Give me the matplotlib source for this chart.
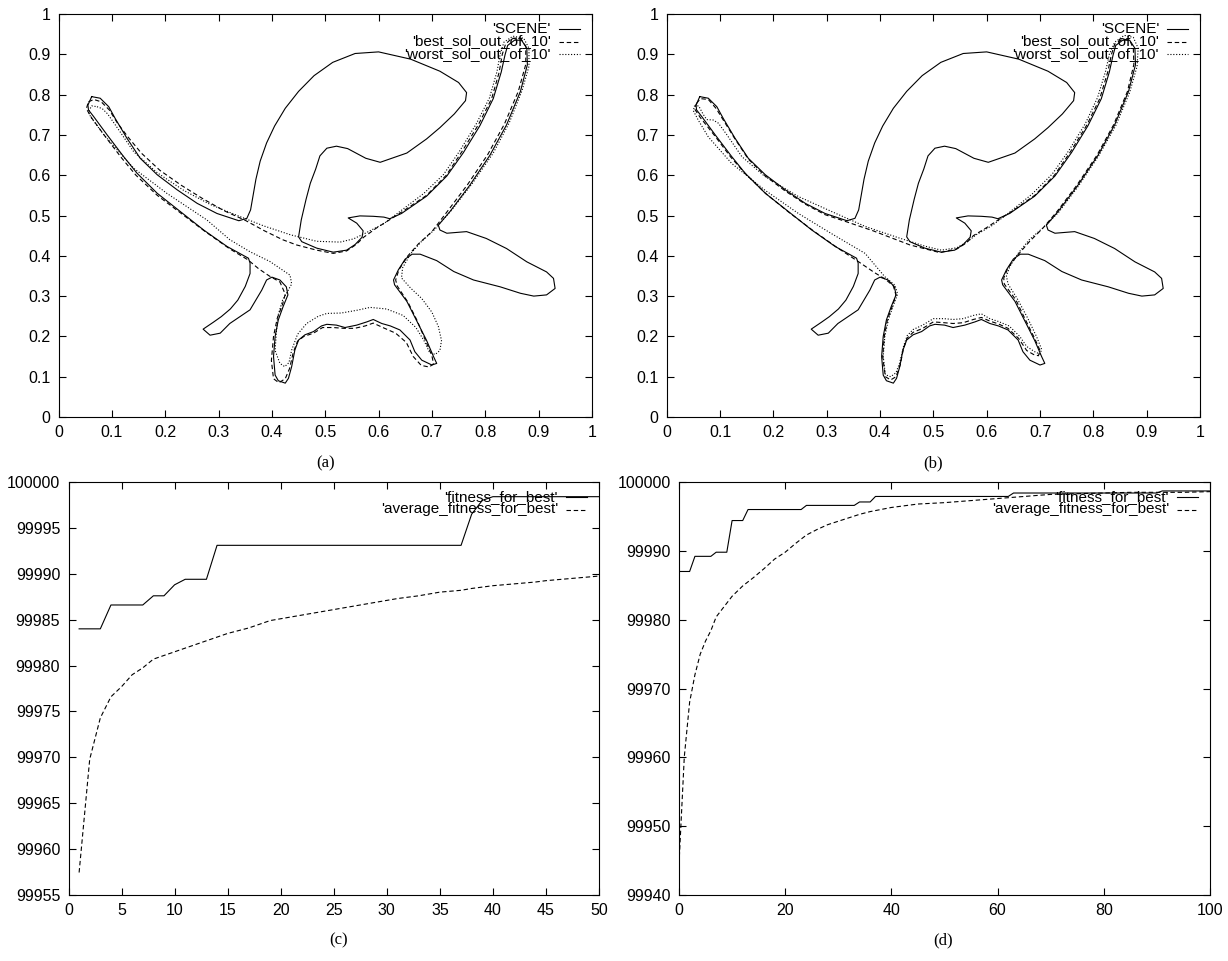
import matplotlib
matplotlib.use('Agg')
import matplotlib.pyplot as plt

plt.rcParams['font.family'] = ['Liberation Sans', 'DejaVu Sans']

# ---------------- scene outline (panels a, b) ----------------
scene_left_arm_upper = [(0.062,0.795),(0.078,0.791),(0.094,0.770),(0.106,0.741),(0.128,0.692),(0.153,0.642),
    (0.185,0.601),(0.222,0.564),(0.260,0.530),(0.297,0.505),(0.338,0.487),(0.353,0.493)]
scene_bulb = [(0.360,0.514),(0.364,0.545),(0.370,0.590),(0.378,0.635),(0.390,0.680),(0.405,0.722),(0.425,0.766),
    (0.450,0.808),(0.479,0.847),(0.514,0.880),(0.556,0.902),(0.600,0.906),(0.660,0.888),(0.715,0.858),(0.750,0.830),
    (0.765,0.805),(0.763,0.785),(0.742,0.752),(0.715,0.718),(0.690,0.690),(0.653,0.655),(0.603,0.632),(0.576,0.642),
    (0.542,0.666),(0.521,0.672),(0.503,0.667),(0.490,0.648),(0.482,0.615),(0.472,0.580),(0.464,0.540),(0.455,0.489),
    (0.450,0.447),(0.456,0.435),(0.484,0.419),(0.515,0.409),(0.540,0.414),(0.556,0.428),(0.569,0.446),(0.571,0.462),
    (0.559,0.481),(0.543,0.494),(0.565,0.499),(0.590,0.498),(0.610,0.496),(0.621,0.492)]
scene_right_arm = [(0.643,0.505),(0.690,0.548),(0.728,0.598),(0.759,0.656),(0.790,0.723),(0.815,0.790),(0.830,0.856),
    (0.837,0.898),(0.842,0.922),(0.855,0.935),(0.868,0.935),(0.878,0.915),(0.879,0.874),(0.866,0.808),(0.840,0.725),
    (0.809,0.650),(0.771,0.575),(0.734,0.510),(0.712,0.476),(0.715,0.464),(0.728,0.456)]
scene_blob = [(0.765,0.460),(0.802,0.443),(0.840,0.418),(0.878,0.385),(0.915,0.360),(0.928,0.344),(0.931,0.319),
    (0.915,0.303),(0.891,0.300),(0.866,0.307),(0.828,0.323),(0.778,0.340),(0.741,0.361),(0.709,0.388),(0.678,0.404),
    (0.663,0.404),(0.650,0.392),(0.637,0.365),(0.628,0.340),(0.630,0.328)]
scene_legs = [(0.653,0.287),(0.671,0.240),(0.690,0.190),(0.703,0.150),(0.709,0.133),(0.700,0.129),(0.681,0.141),
    (0.668,0.162),(0.659,0.191),(0.640,0.216),(0.622,0.226),(0.606,0.232),(0.590,0.242),(0.578,0.236),(0.559,0.228),
    (0.537,0.222),(0.521,0.228),(0.503,0.230),(0.493,0.226),(0.478,0.212),(0.462,0.204),(0.450,0.191),(0.443,0.166),
    (0.437,0.125),(0.431,0.096),(0.425,0.084),(0.412,0.090),(0.406,0.104),(0.403,0.150),(0.406,0.200),(0.412,0.241),
    (0.421,0.274),(0.430,0.303),(0.427,0.323),(0.415,0.340),(0.400,0.347),(0.390,0.340)]
scene_stub = [(0.381,0.315),(0.359,0.266),(0.321,0.232),(0.303,0.208),(0.284,0.203),(0.271,0.218),(0.290,0.235),
    (0.305,0.249),(0.322,0.268),(0.336,0.290),(0.350,0.324),(0.359,0.356),(0.359,0.382),(0.356,0.394)]
scene_left_arm_lower = [(0.316,0.423),(0.272,0.464),(0.228,0.510),(0.185,0.555),(0.147,0.605),(0.122,0.646),
    (0.091,0.700),(0.066,0.745),(0.056,0.762),(0.055,0.774),(0.062,0.795)]

# ---------------- best / worst solutions, panel (a) ----------------
best_a_upper = [(0.056,0.782),(0.066,0.788),(0.080,0.782),(0.095,0.762),(0.110,0.730),(0.130,0.695),(0.155,0.655),
    (0.190,0.612),(0.230,0.575),(0.270,0.542),(0.310,0.512),(0.350,0.488),(0.386,0.462),(0.420,0.440),(0.446,0.427),
    (0.484,0.414),(0.515,0.406),(0.540,0.412),(0.558,0.428),(0.572,0.446),(0.595,0.468),(0.625,0.493),(0.645,0.510),
    (0.690,0.550),(0.727,0.600),(0.757,0.660),(0.787,0.725),(0.812,0.790),(0.826,0.855),(0.832,0.900),(0.838,0.925),
    (0.850,0.940),(0.866,0.940),(0.876,0.920),(0.876,0.875),(0.862,0.808),(0.836,0.727),(0.805,0.652),(0.767,0.577),
    (0.730,0.512),(0.700,0.460),(0.675,0.430),(0.655,0.400),(0.638,0.365),(0.632,0.340),(0.635,0.325)]
best_a_lower = [(0.655,0.285),(0.672,0.240),(0.688,0.190),(0.700,0.152),(0.703,0.132),(0.695,0.124),(0.680,0.128),
    (0.665,0.150),(0.652,0.185),(0.632,0.208),(0.608,0.222),(0.590,0.233),(0.575,0.226),(0.555,0.220),(0.535,0.220),
    (0.515,0.222),(0.495,0.222),(0.478,0.208),(0.460,0.200),(0.448,0.188),(0.440,0.160),(0.433,0.120),(0.425,0.095),
    (0.413,0.085),(0.403,0.095),(0.399,0.140),(0.403,0.200),(0.410,0.245),(0.420,0.280),(0.425,0.305),(0.415,0.335),
    (0.395,0.350),(0.375,0.368),(0.355,0.390),(0.320,0.418),(0.275,0.460),(0.230,0.505),(0.185,0.550),(0.145,0.600),
    (0.118,0.643),(0.088,0.695),(0.062,0.742),(0.052,0.765),(0.056,0.782)]
worst_a_upper = [(0.072,0.770),(0.082,0.765),(0.092,0.752),(0.113,0.712),(0.141,0.658),(0.185,0.606),(0.235,0.562),
    (0.285,0.527),(0.335,0.500),(0.385,0.474),(0.435,0.452),(0.484,0.436),(0.528,0.434),(0.553,0.442),(0.575,0.456),
    (0.610,0.480),(0.645,0.515),(0.685,0.555),(0.722,0.602),(0.752,0.660),(0.783,0.727),(0.808,0.792),(0.822,0.857),
    (0.828,0.900),(0.835,0.930),(0.852,0.945),(0.872,0.940),(0.882,0.915),(0.882,0.870),(0.869,0.810),(0.845,0.730),
    (0.815,0.655),(0.776,0.580),(0.738,0.515),(0.705,0.465),(0.680,0.435),(0.660,0.405),(0.645,0.370),(0.643,0.345)]
worst_a_lower = [(0.660,0.320),(0.681,0.294),(0.700,0.260),(0.712,0.225),(0.718,0.190),(0.715,0.165),(0.706,0.155),
    (0.695,0.162),(0.685,0.190),(0.670,0.222),(0.646,0.252),(0.615,0.268),(0.584,0.272),(0.560,0.265),(0.530,0.258),
    (0.503,0.257),(0.487,0.250),(0.465,0.232),(0.448,0.205),(0.437,0.166),(0.432,0.135),(0.424,0.125),(0.415,0.133),
    (0.406,0.165),(0.408,0.205),(0.411,0.250),(0.420,0.290),(0.432,0.318),(0.437,0.330),(0.434,0.352),(0.396,0.386),
    (0.359,0.410),(0.321,0.440),(0.278,0.489),(0.203,0.555),(0.141,0.617),(0.085,0.700),(0.060,0.745),(0.056,0.758),
    (0.062,0.772),(0.072,0.770)]

# ---------------- best / worst solutions, panel (b) ----------------
best_b_upper = [(0.056,0.778),(0.063,0.790),(0.078,0.788),(0.093,0.765),(0.106,0.737),(0.128,0.690),(0.153,0.640),
    (0.185,0.598),(0.222,0.561),(0.260,0.528),(0.297,0.502),(0.338,0.484),(0.387,0.462),(0.456,0.427),(0.512,0.408),
    (0.544,0.417),(0.562,0.432),(0.575,0.450),(0.600,0.470),(0.625,0.492),(0.645,0.508),(0.690,0.550),(0.727,0.600),
    (0.757,0.658),(0.788,0.725),(0.812,0.790),(0.827,0.856),(0.834,0.900),(0.840,0.925),(0.855,0.938),(0.868,0.935),
    (0.875,0.915),(0.876,0.875),(0.864,0.808),(0.838,0.725),(0.807,0.650),(0.769,0.575),(0.732,0.510),(0.705,0.468),
    (0.680,0.435),(0.657,0.400),(0.640,0.370),(0.632,0.345),(0.633,0.330)]
best_b_lower = [(0.655,0.290),(0.672,0.243),(0.690,0.195),(0.700,0.165),(0.697,0.152),(0.688,0.155),(0.675,0.165),
    (0.660,0.195),(0.640,0.220),(0.622,0.231),(0.606,0.238),(0.590,0.247),(0.575,0.242),(0.556,0.234),(0.537,0.232),
    (0.520,0.234),(0.500,0.236),(0.480,0.220),(0.462,0.210),(0.451,0.196),(0.444,0.170),(0.438,0.130),(0.430,0.100),
    (0.420,0.092),(0.410,0.100),(0.405,0.150),(0.408,0.200),(0.414,0.242),(0.423,0.275),(0.430,0.302),(0.425,0.325),
    (0.410,0.342),(0.390,0.358),(0.360,0.385),(0.320,0.420),(0.275,0.462),(0.230,0.507),(0.187,0.553),(0.148,0.603),
    (0.120,0.645),(0.090,0.698),(0.063,0.743),(0.052,0.765),(0.056,0.778)]
worst_b_upper = [(0.052,0.772),(0.060,0.772),(0.068,0.752),(0.075,0.738),(0.087,0.737),(0.097,0.729),(0.113,0.700),
    (0.141,0.646),(0.184,0.597),(0.247,0.547),(0.309,0.510),(0.372,0.473),(0.434,0.445),(0.484,0.424),(0.515,0.414),
    (0.544,0.420),(0.565,0.436),(0.580,0.452),(0.610,0.475),(0.640,0.505),(0.685,0.553),(0.723,0.603),(0.754,0.661),
    (0.785,0.728),(0.808,0.793),(0.823,0.858),(0.830,0.900),(0.840,0.930),(0.858,0.947),(0.875,0.942),(0.884,0.915),
    (0.882,0.870),(0.868,0.805),(0.842,0.723),(0.810,0.648),(0.772,0.573),(0.735,0.508),(0.706,0.470),(0.680,0.440),
    (0.660,0.408),(0.644,0.375),(0.637,0.350),(0.640,0.330)]
worst_b_lower = [(0.658,0.292),(0.677,0.245),(0.694,0.198),(0.703,0.168),(0.700,0.156),(0.690,0.162),(0.675,0.175),
    (0.662,0.200),(0.642,0.226),(0.622,0.237),(0.606,0.244),(0.590,0.256),(0.575,0.252),(0.556,0.244),(0.537,0.242),
    (0.520,0.244),(0.500,0.244),(0.480,0.228),(0.462,0.217),(0.451,0.202),(0.444,0.175),(0.437,0.135),(0.430,0.110),
    (0.420,0.100),(0.410,0.105),(0.406,0.150),(0.409,0.200),(0.416,0.243),(0.425,0.277),(0.433,0.305),(0.428,0.327),
    (0.412,0.345),(0.409,0.348),(0.372,0.406),(0.309,0.455),(0.247,0.505),(0.184,0.563),(0.122,0.629),(0.078,0.695),
    (0.059,0.737),(0.050,0.760),(0.052,0.772)]

scene_labels = ["'SCENE'", "'best_sol_out_of_10'", "'worst_sol_out_of_10'"]
unit_ticks = [0, 0.1, 0.2, 0.3, 0.4, 0.5, 0.6, 0.7, 0.8, 0.9, 1]
unit_tick_labels = ['0', '0.1', '0.2', '0.3', '0.4', '0.5', '0.6', '0.7', '0.8', '0.9', '1']

# ---------------- fitness, panel (c) ----------------
gen_c = [1, 2, 3, 4, 5, 6, 7, 8, 9, 10, 11, 12, 13, 14, 15, 16, 17, 18, 19, 20, 21, 22, 23, 24, 25,
         26, 27, 28, 29, 30, 31, 32, 33, 34, 35, 36, 37, 38, 39, 40, 41, 42, 43, 44, 45, 46, 47, 48, 49, 50]
best_c = [99984.0, 99984.0, 99984.0, 99986.6, 99986.6, 99986.6, 99986.6, 99987.6, 99987.6, 99988.8,
          99989.4, 99989.4, 99989.4, 99993.1, 99993.1, 99993.1, 99993.1, 99993.1, 99993.1, 99993.1,
          99993.1, 99993.1, 99993.1, 99993.1, 99993.1, 99993.1, 99993.1, 99993.1, 99993.1, 99993.1,
          99993.1, 99993.1, 99993.1, 99993.1, 99993.1, 99993.1, 99993.1, 99996.5, 99998.0, 99998.4,
          99998.4, 99998.4, 99998.4, 99998.4, 99998.4, 99998.4, 99998.4, 99998.4, 99998.4, 99998.4]
avg_c = [99957.45, 99969.8, 99974.3, 99976.6, 99977.7, 99979.0, 99979.75, 99980.7, 99981.1, 99981.5,
         99981.9, 99982.3, 99982.7, 99983.1, 99983.5, 99983.8, 99984.1, 99984.5, 99984.9, 99985.1,
         99985.3, 99985.5, 99985.7, 99985.9, 99986.1, 99986.3, 99986.5, 99986.7, 99986.9, 99987.1,
         99987.3, 99987.45, 99987.6, 99987.8, 99988.0, 99988.1, 99988.2, 99988.4, 99988.55, 99988.7,
         99988.8, 99988.9, 99989.0, 99989.1, 99989.25, 99989.35, 99989.45, 99989.55, 99989.65, 99989.75]
c_xticks = [0, 5, 10, 15, 20, 25, 30, 35, 40, 45, 50]
c_yticks = [99955, 99960, 99965, 99970, 99975, 99980, 99985, 99990, 99995, 100000]

# ---------------- fitness, panel (d) ----------------
gen_d_best = [0, 2, 3, 6, 7, 9, 10, 12, 13, 23, 24, 33, 34, 36, 37, 62, 63, 90, 91, 100]
best_d = [99987.0, 99987.0, 99989.2, 99989.2, 99989.8, 99989.8, 99994.4, 99994.4, 99996.0, 99996.0,
          99996.6, 99996.6, 99997.1, 99997.1, 99997.9, 99997.9, 99998.4, 99998.4, 99998.7, 99998.7]
gen_d_avg = [0, 1, 2, 3, 4, 5, 6, 7, 8, 10, 12, 14, 16, 18, 20, 22, 24, 26, 28, 30, 32, 34, 36, 38, 40,
             45, 50, 55, 60, 65, 70, 75, 80, 85, 90, 95, 100]
avg_d = [99944.5, 99960.1, 99968.0, 99972.0, 99975.0, 99976.9, 99978.4, 99980.4, 99981.4, 99983.4,
         99984.9, 99986.1, 99987.4, 99988.8, 99989.8, 99991.1, 99992.3, 99993.1, 99993.8, 99994.3,
         99994.8, 99995.3, 99995.7, 99996.0, 99996.3, 99996.8, 99997.0, 99997.3, 99997.6, 99997.9,
         99998.2, 99998.3, 99998.4, 99998.5, 99998.5, 99998.5, 99998.6]
d_xticks = [0, 20, 40, 60, 80, 100]
d_yticks = [99940, 99950, 99960, 99970, 99980, 99990, 100000]
fit_labels = ["'fitness_for_best'", "'average_fitness_for_best'"]

captions = ['(a)', '(b)', '(c)', '(d)']

# ---------------- drawing ----------------
W, H = 1228, 961
fig = plt.figure(figsize=(W / 100, H / 100), dpi=100)

DASH = (0, (4, 2.5))
DOT = (0, (1, 1.6))
LW = 0.8


def add_ax(x0, x1, y0, y1):
    ax = fig.add_axes([x0 / W, 1 - y1 / H, (x1 - x0) / W, (y1 - y0) / H])
    ax.tick_params(direction='in', length=5, width=0.8, top=True, right=True,
                   labelsize=11.5, pad=6, colors='black')
    for s in ax.spines.values():
        s.set_linewidth(0.8)
    return ax, (x1 - x0), (y1 - y0)


def gp_legend(ax, w, h, labels, styles):
    for i, (lab, ls) in enumerate(zip(labels, styles)):
        yy = 1 - (15 + 12.5 * i) / h
        ax.text(1 - 41 / w, yy, lab, transform=ax.transAxes, ha='right', va='center', fontsize=11)
        ax.plot([1 - 33 / w, 1 - 12 / w], [yy, yy], transform=ax.transAxes, color='black',
                lw=LW, ls=ls, clip_on=False)


def xy(*segs):
    pts = [p for s in segs for p in s]
    return [p[0] for p in pts], [p[1] for p in pts]


scene_segments = (scene_left_arm_upper, scene_bulb, scene_right_arm, scene_blob,
                  scene_legs, scene_stub, scene_left_arm_lower)

for (x0, x1), best, worst in [((58.6, 591.9), (best_a_upper, best_a_lower), (worst_a_upper, worst_a_lower)),
                              ((666.7, 1200.0), (best_b_upper, best_b_lower), (worst_b_upper, worst_b_lower))]:
    ax, w, h = add_ax(x0, x1, 14, 417)
    sx, sy = xy(*scene_segments)
    ax.plot(sx, sy, color='black', lw=LW, ls='-')
    bx, by = xy(*best)
    ax.plot(bx, by, color='black', lw=LW, ls=DASH)
    wx, wy = xy(*worst)
    ax.plot(wx, wy, color='black', lw=LW, ls=DOT)
    ax.set_xlim(0, 1)
    ax.set_ylim(0, 1)
    ax.set_xticks(unit_ticks)
    ax.set_xticklabels(unit_tick_labels)
    ax.set_yticks(unit_ticks)
    ax.set_yticklabels(unit_tick_labels)
    gp_legend(ax, w, h, scene_labels, ['-', DASH, DOT])

# panel (c)
ax, w, h = add_ax(68.5, 599, 482, 895)
ax.plot(gen_c, best_c, color='black', lw=LW, ls='-')
ax.plot(gen_c, avg_c, color='black', lw=LW, ls=DASH)
ax.set_xlim(0, 50)
ax.set_ylim(99955, 100000)
ax.set_xticks(c_xticks)
ax.set_xticklabels([str(v) for v in c_xticks])
ax.set_yticks(c_yticks)
ax.set_yticklabels([str(v) for v in c_yticks])
gp_legend(ax, w, h, fit_labels, ['-', DASH])

# panel (d)
ax, w, h = add_ax(679, 1210, 482, 895)
ax.plot(gen_d_best, best_d, color='black', lw=LW, ls='-')
ax.plot(gen_d_avg, avg_d, color='black', lw=LW, ls=DASH)
ax.set_xlim(0, 100)
ax.set_ylim(99940, 100000)
ax.set_xticks(d_xticks)
ax.set_xticklabels([str(v) for v in d_xticks])
ax.set_yticks(d_yticks)
ax.set_yticklabels([str(v) for v in d_yticks])
gp_legend(ax, w, h, fit_labels, ['-', DASH])

caption_pos = [(326, 463), (933, 463), (339, 940), (943, 940)]
for cap, (cx, cy) in zip(captions, caption_pos):
    fig.text(cx / W, 1 - cy / H, cap, family=['Liberation Serif', 'DejaVu Serif'],
             fontsize=12, ha='center', va='center')

fig.savefig('out.png', dpi=100, facecolor='white')
